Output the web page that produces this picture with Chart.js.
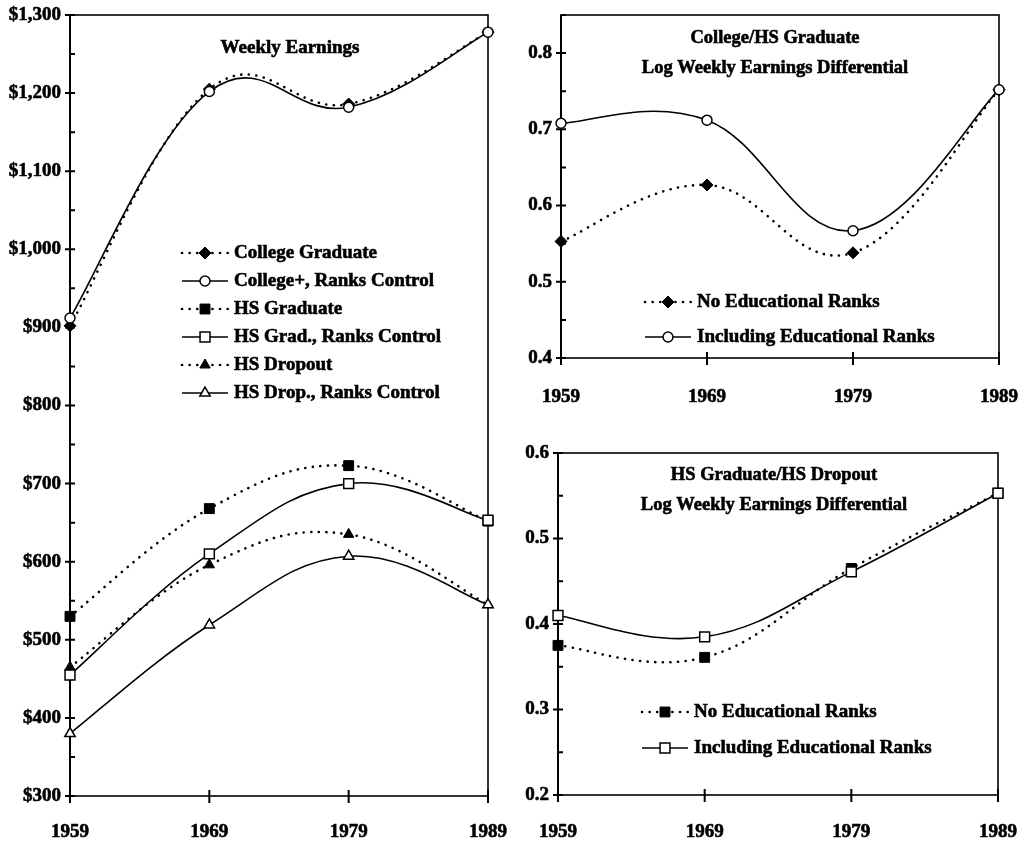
<!DOCTYPE html>
<html>
<head>
<meta charset="utf-8">
<script src="https://cdn.jsdelivr.net/npm/chart.js@4.4.1/dist/chart.umd.min.js"></script>
<style>
  body { margin: 0; background: #fff; }
  canvas { position: absolute; }
</style>
</head>
<body>
<canvas id="earnings" width="520" height="847" style="left:0;top:0"></canvas>
<canvas id="collegeHs" width="531" height="420" style="left:500px;top:0"></canvas>
<canvas id="gradDrop" width="531" height="427" style="left:500px;top:420px"></canvas>
<script>
const years = ['1959', '1969', '1979', '1989'];

// weekly earnings, dollars
const collegeGrad  = [902, 1205, 1186, 1278];
const collegeRanks = [912, 1202, 1182, 1278];
const hsGrad       = [530, 668, 723, 652];
const hsGradRanks  = [455, 610, 700, 653];
const hsDrop       = [465, 596, 635, 545];
const hsDropRanks  = [380, 519, 607, 545];

// college / HS graduate log differential
const collegeHsNoRanks = [0.553, 0.627, 0.538, 0.752];
const collegeHsRanks   = [0.708, 0.712, 0.567, 0.752];

// HS graduate / HS dropout log differential
const gradDropNoRanks = [0.375, 0.361, 0.465, 0.553];
const gradDropRanks   = [0.410, 0.385, 0.461, 0.553];

const FONT = "'Liberation Serif', 'Times New Roman', serif";
const INK = 0.6; // extra stroke to thicken the printed text

function dotted(label, data, style, r) {
  return {
    label, data,
    borderColor: '#000', borderWidth: 2.6, borderDash: [0.1, 7.5], borderCapStyle: 'round',
    pointStyle: style, pointRadius: r, pointBackgroundColor: '#000', pointBorderColor: '#000',
    pointBorderWidth: 1, tension: 0.5, clip: false, order: 1
  };
}
function solid(label, data, style, r) {
  return {
    label, data,
    borderColor: '#000', borderWidth: 1.6,
    pointStyle: style, pointRadius: r, pointBackgroundColor: '#fff', pointBorderColor: '#000',
    pointBorderWidth: 1.5, tension: 0.5, clip: false, order: 0
  };
}

// spreadsheet-style smoothing: uniform Catmull-Rom control points on the scaled points
const smooth = {
  id: 'smooth',
  beforeDatasetDraw(chart, args) {
    const line = args.meta.dataset;
    const pts = args.meta.data;
    if (!line) return;
    line.updateControlPoints(chart.chartArea, 'x');
    const k = 0.2;
    pts.forEach((p, i) => {
      const prev = pts[i - 1] || p, next = pts[i + 1] || p;
      p.cp1x = p.x - (next.x - prev.x) * k;
      p.cp1y = p.y - (next.y - prev.y) * k;
      p.cp2x = p.x + (next.x - prev.x) * k;
      p.cp2y = p.y + (next.y - prev.y) * k;
    });
    line._path = undefined;
  }
};

function inkText(ctx, text, x, y) {
  ctx.fillText(text, x, y);
  ctx.strokeText(text, x, y);
}

// box, crossing tick marks, title and in-plot legend
const decor = {
  id: 'decor',
  beforeDatasetsDraw(chart) {
    const { ctx, chartArea: a, scales: { x, y } } = chart;
    ctx.save();
    ctx.strokeStyle = '#000';
    ctx.lineWidth = 1.6;
    ctx.strokeRect(a.left, a.top, a.right - a.left, a.bottom - a.top);
    ctx.beginPath();
    ctx.lineWidth = 2;
    ctx.moveTo(a.left, a.top); ctx.lineTo(a.left, a.bottom + 7);
    y.ticks.forEach(t => {
      const py = y.getPixelForValue(t.value);
      ctx.moveTo(t.label !== '' ? a.left - 5 : a.left, py);
      ctx.lineTo(a.left + 5, py);
    });
    x.ticks.forEach((t, i) => {
      const px = x.getPixelForTick(i);
      ctx.moveTo(px, a.bottom - 6);
      ctx.lineTo(px, a.bottom + 7);
    });
    ctx.stroke();
    ctx.restore();
  },
  afterDraw(chart, args, opts) {
    const { ctx, chartArea: a } = chart;
    ctx.save();
    ctx.fillStyle = '#000';
    ctx.strokeStyle = '#000';
    ctx.lineWidth = INK;
    ctx.textBaseline = 'middle';
    ctx.font = 'bold ' + opts.titleSize + 'px ' + FONT;
    ctx.textAlign = 'center';
    opts.title.forEach((line, i) => inkText(ctx, line, a.left + opts.titleX, a.top + opts.titleY + i * 30));

    ctx.textAlign = 'left';
    ctx.font = 'bold 19px ' + FONT;
    chart.data.datasets.forEach((ds, i) => {
      const y = a.top + opts.legendY + i * opts.legendGap;
      const x0 = a.left + opts.legendX;
      const len = 46;
      ctx.save();
      ctx.strokeStyle = ds.borderColor;
      ctx.lineWidth = ds.borderWidth;
      ctx.lineCap = ds.borderCapStyle || 'butt';
      ctx.setLineDash(ds.borderDash || []);
      ctx.beginPath();
      ctx.moveTo(x0, y); ctx.lineTo(x0 + len, y);
      ctx.stroke();
      ctx.restore();
      ctx.save();
      ctx.fillStyle = ds.pointBackgroundColor;
      ctx.strokeStyle = ds.pointBorderColor;
      ctx.lineWidth = ds.pointBorderWidth;
      Chart.helpers.drawPoint(ctx, { pointStyle: ds.pointStyle, radius: ds.pointRadius, borderWidth: ds.pointBorderWidth, rotation: 0 }, x0 + len / 2, y);
      ctx.restore();
      inkText(ctx, ds.label, x0 + len + 6, y);
    });
    ctx.restore();
  }
};

function makeChart(id, datasets, yopt, dims, decorOpts) {
  const tickFont = { family: FONT, size: 19, weight: 'bold' };
  return new Chart(document.getElementById(id), {
    type: 'line',
    data: { labels: years, datasets },
    plugins: [smooth, decor],
    options: {
      responsive: false,
      animation: false,
      layout: { padding: { top: dims.top, right: dims.right, left: 0, bottom: 0 } },
      plugins: { legend: { display: false }, tooltip: { enabled: false }, decor: decorOpts },
      scales: {
        x: {
          grid: { display: false, drawTicks: false },
          border: { display: false },
          ticks: {
            color: '#000', padding: dims.xpad, maxRotation: 0, font: tickFont,
            textStrokeColor: '#000', textStrokeWidth: INK
          },
          afterFit: s => { s.height = dims.xh; s.paddingLeft = 0; s.paddingRight = 0; }
        },
        y: {
          min: yopt.min, max: yopt.max,
          grid: { display: false, drawTicks: false },
          border: { display: false },
          ticks: {
            stepSize: yopt.step, autoSkip: false, color: '#000', padding: 9, font: tickFont,
            textStrokeColor: '#000', textStrokeWidth: INK,
            callback: yopt.label
          },
          afterFit: s => { s.width = dims.yw; s.paddingTop = 0; s.paddingBottom = 0; }
        }
      }
    }
  });
}

makeChart('earnings', [
  dotted('College Graduate', collegeGrad, 'rectRot', 6),
  solid('College+, Ranks Control', collegeRanks, 'circle', 5),
  dotted('HS Graduate', hsGrad, 'rect', 7),
  solid('HS Grad., Ranks Control', hsGradRanks, 'rect', 7),
  dotted('HS Dropout', hsDrop, 'triangle', 6),
  solid('HS Drop., Ranks Control', hsDropRanks, 'triangle', 6)
], {
  min: 300, max: 1300, step: 50,
  label: v => (Math.round(v) % 100 === 0 ? '$' + v.toLocaleString('en-US') : '')
}, { top: 15, right: 32, xh: 51, yw: 70, xpad: 25 },
{ title: ['Weekly Earnings'], titleSize: 19, titleX: 220, titleY: 33, legendX: 112, legendY: 238, legendGap: 28 });

const diffLabel = v => (Math.round(v * 100) % 10 === 0 ? (Math.round(v * 10) / 10).toString() : '');

makeChart('collegeHs', [
  dotted('No Educational Ranks', collegeHsNoRanks, 'rectRot', 6),
  solid('Including Educational Ranks', collegeHsRanks, 'circle', 5)
], { min: 0.4, max: 0.85, step: 0.05, label: diffLabel },
{ top: 15, right: 32, xh: 62, yw: 61, xpad: 28 },
{ title: ['College/HS Graduate', 'Log Weekly Earnings Differential'], titleSize: 18.5, titleX: 214, titleY: 23, legendX: 84, legendY: 287, legendGap: 35 });

makeChart('gradDrop', [
  dotted('No Educational Ranks', gradDropNoRanks, 'rect', 7),
  solid('Including Educational Ranks', gradDropRanks, 'rect', 7)
], { min: 0.2, max: 0.6, step: 0.05, label: diffLabel },
{ top: 33, right: 33, xh: 52, yw: 58, xpad: 26 },
{ title: ['HS Graduate/HS Dropout', 'Log Weekly Earnings Differential'], titleSize: 18.5, titleX: 216, titleY: 22, legendX: 84, legendY: 259, legendGap: 36 });
</script>
</body>
</html>
